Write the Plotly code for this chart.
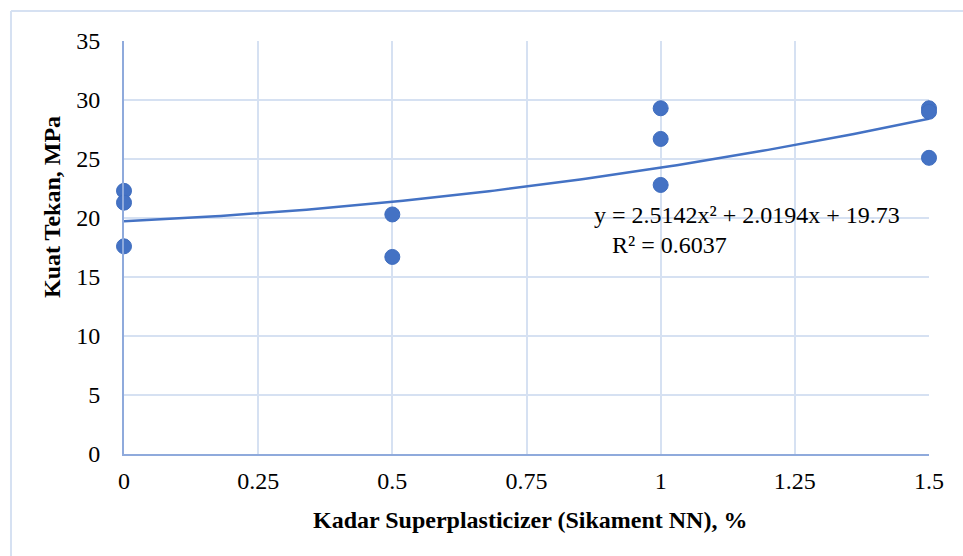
import numpy as np
import plotly.graph_objects as go

# Data
x_vals = [0, 0, 0, 0.5, 0.5, 1, 1, 1, 1.5, 1.5, 1.5]
y_vals = [22.3, 21.3, 17.6, 20.3, 16.7, 29.3, 26.7, 22.8, 29.3, 29.0, 25.1]
# Trendline coefficients displayed on chart (a x^2 + b x + c)
coef_a, coef_b, coef_c = 2.5142, 2.0194, 19.73
equation_text = "y = 2.5142x² + 2.0194x + 19.73"
r2_text = "R² = 0.6037"
x_title = "Kadar Superplasticizer (Sikament NN), %"
y_title = "Kuat Tekan, MPa"
x_ticks = [0, 0.25, 0.5, 0.75, 1, 1.25, 1.5]
x_tick_labels = ["0", "0.25", "0.5", "0.75", "1", "1.25", "1.5"]
y_ticks = [0, 5, 10, 15, 20, 25, 30, 35]

xt = np.linspace(0, 1.5, 151)
yt = coef_a * xt**2 + coef_b * xt + coef_c

fig = go.Figure()
fig.add_trace(go.Scatter(x=xt, y=yt, mode="lines",
                         line=dict(color="#4472C4", width=2.5), hoverinfo="skip",
                         showlegend=False))
fig.add_trace(go.Scatter(x=x_vals, y=y_vals, mode="markers",
                         marker=dict(color="#4472C4", size=15,
                                     line=dict(color="#3F6DBF", width=1)),
                         showlegend=False, cliponaxis=False))

font_family = "Liberation Serif"
fs = 24
fig.update_layout(
    width=963, height=556,
    margin=dict(l=124, r=34, t=41, b=102),
    paper_bgcolor="white", plot_bgcolor="white",
    font=dict(family=font_family, size=fs, color="black"),
    xaxis=dict(range=[0, 1.5], tickvals=x_ticks, ticktext=x_tick_labels,
               showgrid=True, gridcolor="#D6E1F2", gridwidth=2,
               showline=True, linecolor="#8FAADC", linewidth=2,
               zeroline=False, ticks="", ticklabelstandoff=4,
               tickfont=dict(family=font_family, size=fs)),
    yaxis=dict(range=[0, 35], tickvals=y_ticks,
               showgrid=True, gridcolor="#D6E1F2", gridwidth=2,
               showline=True, linecolor="#8FAADC", linewidth=2,
               zeroline=False, ticks="", ticklabelstandoff=17,
               tickfont=dict(family=font_family, size=fs)),
    shapes=[
        dict(type="line", xref="paper", yref="paper", x0=-0.1404, x1=1.1,
             y0=1.0726, y1=1.0726, line=dict(color="#D6E1F2", width=2)),
        dict(type="line", xref="paper", yref="paper", x0=-0.1404, x1=-0.1404,
             y0=1.0726, y1=-0.3, line=dict(color="#D6E1F2", width=2)),
    ],
    annotations=[
        dict(x=0.5814, y=0.5787, xref="paper", yref="paper", text=equation_text,
             showarrow=False, xanchor="left", yanchor="middle",
             font=dict(size=fs, family=font_family)),
        dict(x=0.6037, y=0.506, xref="paper", yref="paper", text=r2_text,
             showarrow=False, xanchor="left", yanchor="middle",
             font=dict(size=fs, family=font_family)),
        dict(x=(530 - 124) / 805, y=(454 - 520) / 413, xref="paper", yref="paper",
             text="<b>" + x_title + "</b>", showarrow=False,
             xanchor="center", yanchor="middle",
             font=dict(size=fs, family=font_family)),
        dict(x=(52 - 124) / 805, y=(454 - 207) / 413, xref="paper", yref="paper",
             text="<b>" + y_title + "</b>", showarrow=False, textangle=-90,
             xanchor="center", yanchor="middle",
             font=dict(size=fs, family=font_family)),
    ],
)

fig.write_html("out.html")
